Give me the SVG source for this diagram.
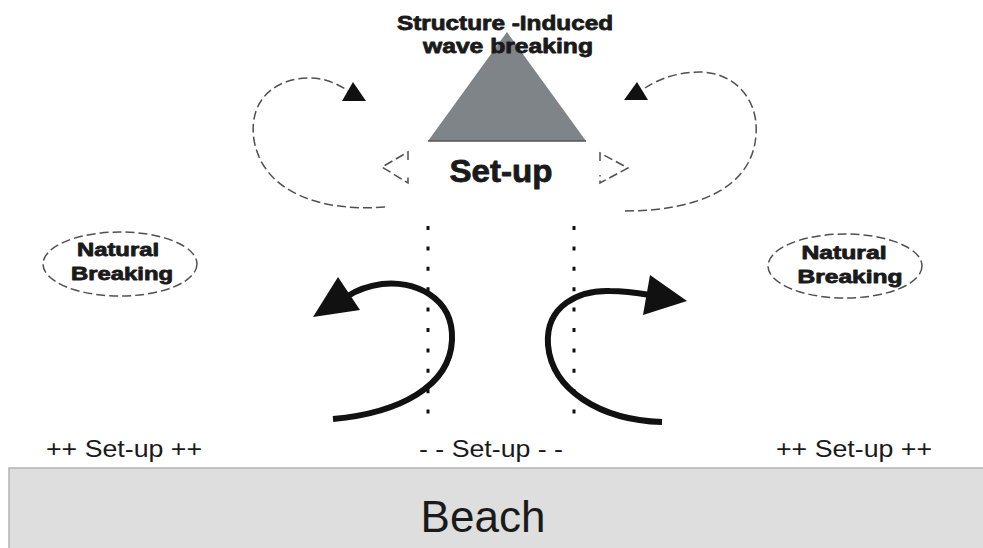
<svg xmlns="http://www.w3.org/2000/svg" width="983" height="548" viewBox="0 0 983 548">
<style>
.hv{font-family:"Liberation Sans",Arial,sans-serif;font-weight:bold;fill:#1a1a1a;text-anchor:middle;stroke:#1a1a1a;stroke-width:0.8;stroke-linejoin:round}
.lb{font-family:"Liberation Sans",Arial,sans-serif;fill:#1a1a1a;text-anchor:middle}
.dash{fill:none;stroke:#505050;stroke-width:1.5;stroke-dasharray:9 4}
.dot{stroke:#111;stroke-width:3;stroke-dasharray:4 16.4}
.bold{fill:none;stroke:#111;stroke-width:6;stroke-linecap:butt}
.head{fill:#111}
</style>
<rect width="983" height="548" fill="#fff"/>
<g id="beach">
<rect x="9" y="468" width="980" height="86" fill="#dedede" stroke="#b4b4b4" stroke-width="1.5"/>
<text class="lb" x="483" y="532" font-size="44">Beach</text>
</g>
<g id="structure">
<polygon points="507,32 428,141 586,141" fill="#7e8487"/>
<line x1="428" y1="141" x2="586" y2="141" stroke="#555" stroke-width="1.5"/>
<text class="hv" x="505" y="30" font-size="20" textLength="216" lengthAdjust="spacingAndGlyphs">Structure -Induced</text>
<text class="hv" x="508" y="53" font-size="20" textLength="170" lengthAdjust="spacingAndGlyphs">wave breaking</text>
</g>
<g id="setup-center">
<text class="hv" x="501" y="182" font-size="32" textLength="103" lengthAdjust="spacingAndGlyphs">Set-up</text>
</g>
<g id="natural-left">
<ellipse class="dash" cx="120" cy="264" rx="77" ry="32"/>
<text class="hv" x="118" y="256" font-size="18" textLength="82" lengthAdjust="spacingAndGlyphs">Natural</text>
<text class="hv" x="122" y="280" font-size="18" textLength="102" lengthAdjust="spacingAndGlyphs">Breaking</text>
</g>
<g id="natural-right">
<ellipse class="dash" cx="845" cy="266" rx="77" ry="32"/>
<text class="hv" x="844" y="259" font-size="18" textLength="85" lengthAdjust="spacingAndGlyphs">Natural</text>
<text class="hv" x="850" y="283" font-size="18" textLength="105" lengthAdjust="spacingAndGlyphs">Breaking</text>
</g>
<g id="labels">
<text class="lb" x="124" y="457" font-size="24" textLength="156" lengthAdjust="spacingAndGlyphs">++ Set-up ++</text>
<text class="lb" x="491" y="457" font-size="24" textLength="144" lengthAdjust="spacingAndGlyphs">- - Set-up - -</text>
<text class="lb" x="854" y="457" font-size="24" textLength="156" lengthAdjust="spacingAndGlyphs">++ Set-up ++</text>
</g>
<g id="connectors">
<path class="dash" d="M408,160 L408,152 L382,167 L408,183 L408,175" stroke-dasharray="6 3"/>
<path class="dash" d="M600,161 L600,153 L628,168 L600,183 L600,175" stroke-dasharray="6 3"/>
<path class="dash" d="M385,207 C320,212 263,192 254,140 C248,100 275,78 310,78 C325,78 338,84 350,92"/>
<polygon class="head" points="353,82 342,101 366,101"/>
<path class="dash" d="M625,211 C690,211 752,192 756,135 C759,95 730,72 700,72 C680,72 660,78 645,88"/>
<polygon class="head" points="637,82 624,100 648,100"/>
<line class="dot" x1="428" y1="226" x2="428" y2="414"/>
<line class="dot" x1="574" y1="226" x2="574" y2="414"/>
<path class="bold" d="M333,419 C400,413 450,386 452,340 C454,296 412,280 382,284 C368,286 357,290 348,296"/>
<polygon class="head" points="313,317 338,277 360,310"/>
<path class="bold" d="M662,422 C600,420 552,390 548,345 C545,305 580,290 610,291 C625,291 638,293 650,295"/>
<polygon class="head" points="687,301 650,275 643,315"/>
</g>
</svg>
